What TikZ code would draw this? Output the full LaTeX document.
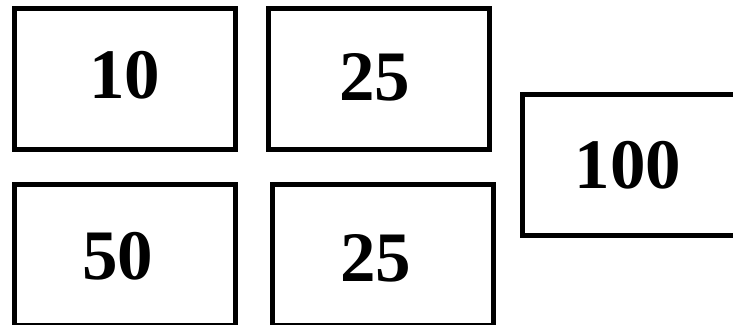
\documentclass[tikz,border=0pt]{standalone}
\usepackage{fontspec}
\setmainfont{Liberation Serif}
\usepackage{tikz}

\begin{document}
\begin{tikzpicture}[x=1pt, y=1pt,
  coin/.style={draw, line width=5pt, minimum width=221pt,
    minimum height=141pt, inner sep=0pt},
  value/.style={font=\fontsize{71}{80}\selectfont\bfseries, inner sep=0pt}
]
\useasboundingbox (0,0) rectangle (733,-324);

% Left block of four boxes
\node[coin] (box10)  at (124.5, -79.25) {};
\node[coin] (box25a) at (378.5, -79.25) {};
\node[coin] (box50)  at (124.75, -255) {};
\node[coin] (box25b) at (382.5, -255) {};

% Total on the right
\node[coin] (box100) at (632.5, -165) {};

% Values
\node[value] (val10)  at (124.5, -75.5) {10};
\node[value] (val25a) at (374.5, -77.5) {25};
\node[value] (val50)  at (117.5, -256) {50};
\node[value] (val25b) at (375.5, -258) {25};
\node[value] (val100) at (628, -165) {100};

\end{tikzpicture}
\end{document}
